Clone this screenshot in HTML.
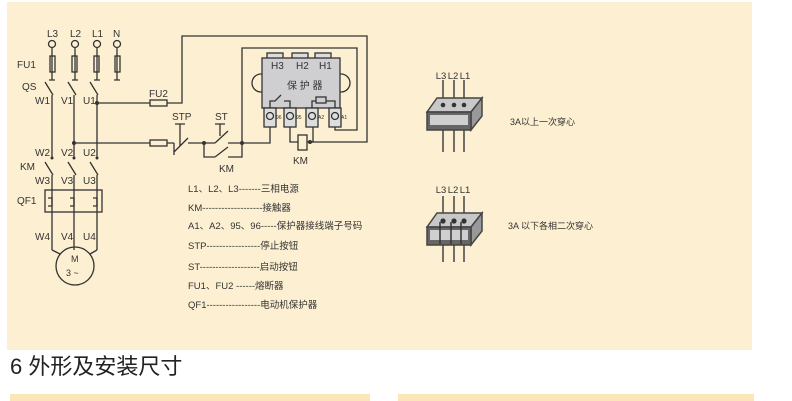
<!DOCTYPE html>
<html><head><meta charset="utf-8"><style>
html,body{margin:0;padding:0;background:#fff;width:792px;height:401px;overflow:hidden}
svg{display:block}
text{font-family:"Liberation Sans","Noto Sans CJK SC",sans-serif;fill:#333}
</style></head><body>
<svg width="792" height="401" viewBox="0 0 792 401" xmlns="http://www.w3.org/2000/svg">
<rect x="7" y="2" width="745" height="348" fill="#fdf0d2"/>
<rect x="10" y="394" width="360" height="7" fill="#fbe6b8"/>
<rect x="398" y="394" width="356" height="7" fill="#fbe6b8"/>
<text x="10" y="374" font-size="22" style="fill:#222">6 外形及安装尺寸</text>

<g stroke="#333" stroke-width="1.3" fill="none">
<circle cx="52" cy="44" r="3.5"/><circle cx="75" cy="44" r="3.5"/><circle cx="97" cy="44" r="3.5"/><circle cx="117" cy="44" r="3.5"/>
<path d="M52 48V80M75 48V80M97 48V80M117 48V80"/>
<rect x="50" y="56" width="5" height="16"/><rect x="72" y="56" width="5" height="16"/><rect x="94" y="56" width="5" height="16"/><rect x="115" y="56" width="5" height="16"/>
<path d="M49 80h6M72 80h6M94 80h6M114 80h6"/>
<path d="M45 82L53 95M68 82L76 95M90 82L98 95M52 95V158M74 95V158M97 95V158"/>
<path d="M45 162L53 175M68 162L76 175M90 162L98 175M52 175V250M74 175V250M97 175V250"/>
<rect x="45" y="190" width="57" height="22"/>
<path d="M48 198h4v8h-4M70 198h4v8h-4M93 198h4v8h-4"/>
<circle cx="75" cy="266" r="19"/>
<path d="M52 250L60 254M97 250L90 254"/>
<path d="M97 103H150M167 103H182V36H367V142H310"/>
<rect x="150" y="100" width="17" height="6"/>
<path d="M74 143H150M167 143H174"/>
<rect x="150" y="140" width="17" height="6"/>
<path d="M174 143V155M174 152L188 138M180 124V146M175 124h10"/>
<path d="M188 143H215M215 143L228 131M220 124V136M215 124h10M228 143H242M204 143V157H215M215 157L228 147M228 157H242V143"/>
<path d="M242 143V48H357V130H335V127"/>
<path d="M242 143H270V127"/>
<path d="M290 127V142H298M307 142H313V127"/>
<rect x="298" y="135" width="9" height="15" fill="#fdf0d2"/>
<circle cx="261" cy="83" r="9" fill="#fdf0d2"/><circle cx="341" cy="83" r="9" fill="#fdf0d2"/>
<rect x="267" y="53" width="16" height="6" fill="#ddd"/><rect x="292" y="53" width="16" height="6" fill="#ddd"/><rect x="315" y="53" width="16" height="6" fill="#ddd"/>
<rect x="262" y="58" width="78" height="50" fill="#cfcfd1"/>
<rect x="264" y="108" width="12" height="19" fill="#ddd"/><rect x="284" y="108" width="12" height="19" fill="#ddd"/><rect x="306" y="108" width="12" height="19" fill="#ddd"/><rect x="329" y="108" width="12" height="19" fill="#ddd"/>
<circle cx="270" cy="116" r="3.5"/><circle cx="290" cy="116" r="3.5"/><circle cx="312" cy="116" r="3.5"/><circle cx="335" cy="116" r="3.5"/>
<path d="M270 108V101h5l6-6M284 101h6v7M312 108V101h4M326 101h9v7"/>
<rect x="316" y="97" width="10" height="6"/>
</g>
<g fill="#333">
<circle cx="97" cy="103" r="2"/><circle cx="74" cy="143" r="2"/><circle cx="204" cy="143" r="2"/><circle cx="242" cy="143" r="2"/><circle cx="310" cy="142" r="2"/>
<circle cx="52" cy="158" r="1.5"/><circle cx="74" cy="158" r="1.5"/><circle cx="97" cy="158" r="1.5"/>
</g>
<g font-size="10">
<text x="47" y="37">L3</text><text x="70" y="37">L2</text><text x="92" y="37">L1</text><text x="113" y="37">N</text>
<text x="17" y="68">FU1</text><text x="22" y="90">QS</text>
<text x="35" y="104">W1</text><text x="61" y="104">V1</text><text x="83" y="104">U1</text>
<text x="35" y="156">W2</text><text x="61" y="156">V2</text><text x="83" y="156">U2</text>
<text x="20" y="170">KM</text>
<text x="35" y="184">W3</text><text x="61" y="184">V3</text><text x="83" y="184">U3</text>
<text x="17" y="204">QF1</text>
<text x="35" y="240">W4</text><text x="61" y="240">V4</text><text x="83" y="240">U4</text>
<text x="71" y="262" font-size="9">M</text><text x="66" y="276" font-size="9">3 ~</text>
<text x="149" y="97">FU2</text><text x="172" y="120">STP</text><text x="215" y="120">ST</text>
<text x="219" y="172">KM</text><text x="293" y="164">KM</text>
<text x="271" y="69">H3</text><text x="296" y="69">H2</text><text x="319" y="69">H1</text>
<text x="287" y="89">保 护 器</text>
<text x="276" y="119" font-size="5">96</text><text x="296" y="119" font-size="5">95</text><text x="318" y="119" font-size="5">A2</text><text x="341" y="119" font-size="5">A1</text>
</g>
<g font-size="9.5">
<text x="188" y="192">L1、L2、L3-------三相电源</text>
<text x="188" y="211">KM-------------------接触器</text>
<text x="188" y="229">A1、A2、95、96-----保护器接线端子号码</text>
<text x="188" y="249">STP-----------------停止按钮</text>
<text x="188" y="270">ST-------------------启动按钮</text>
<text x="188" y="289">FU1、FU2 ------熔断器</text>
<text x="188" y="308">QF1-----------------电动机保护器</text>
</g>
<g stroke="#444" stroke-width="1.5" fill="none">
<path d="M443 80V152M454 80V152M464 80V152"/>
<path d="M427 112L437 98H482L471 112Z" fill="#c8c8c8"/>
<path d="M471 112L482 98V116L471 130Z" fill="#999"/>
<rect x="427" y="112" width="44" height="18" fill="#666"/>
<rect x="430" y="115" width="38" height="10" fill="#cfcfcf" stroke="none"/>
<path d="M443 196V262M454 196V262M464 196V262"/>
<path d="M427 227L437 213H482L471 227Z" fill="#c8c8c8"/>
<path d="M471 227L482 213V231L471 245Z" fill="#999"/>
<rect x="427" y="227" width="44" height="18" fill="#666"/>
<rect x="430" y="230" width="38" height="10" fill="#cfcfcf" stroke="none"/>
<path d="M440 222V244M451 222V244M461 222V244" stroke="#333"/>
</g>
<g fill="#333"><circle cx="443" cy="105" r="2.3"/><circle cx="454" cy="105" r="2.3"/><circle cx="464" cy="105" r="2.3"/>
<circle cx="443" cy="221" r="2.6"/><circle cx="454" cy="221" r="2.6"/><circle cx="464" cy="221" r="2.6"/></g>
<g font-size="9.5" text-anchor="middle">
<text x="441" y="79">L3</text><text x="453" y="79">L2</text><text x="465" y="79">L1</text>
<text x="441" y="193">L3</text><text x="453" y="193">L2</text><text x="465" y="193">L1</text>
</g>
<text x="510" y="125" font-size="9">3A以上一次穿心</text>
<text x="508" y="229" font-size="9">3A 以下各相二次穿心</text>
</svg>
</body></html>
